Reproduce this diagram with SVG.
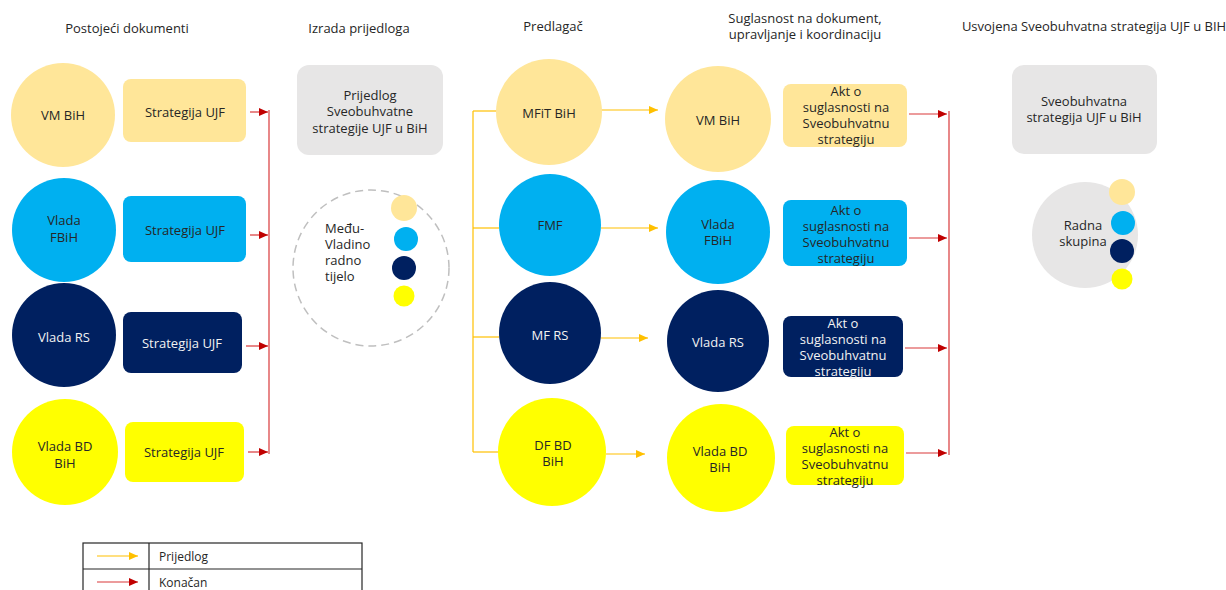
<svg xmlns="http://www.w3.org/2000/svg" width="1226" height="590" viewBox="0 0 1226 590">
<defs>
<marker id="ay" markerUnits="userSpaceOnUse" markerWidth="10" markerHeight="8" refX="9" refY="4" orient="auto"><path d="M0,0 L9,4 L0,8 Z" fill="#FFC000"/></marker>
<marker id="ar" markerUnits="userSpaceOnUse" markerWidth="10" markerHeight="8" refX="9" refY="4" orient="auto"><path d="M0,0 L9,4 L0,8 Z" fill="#C00000"/></marker>
</defs>
<style>
text{font-family:"Open Sans","Noto Sans","Liberation Sans",sans-serif;font-size:13px;fill:#262626;text-anchor:middle}
.lt{fill:#FFE699}
.bl{fill:#00B0F0}
.nv{fill:#002060}
.yl{fill:#FFFF00}
.gr{fill:#E7E6E6}
.wt{fill:#F2F2F2}
.st{text-anchor:start}
.y{stroke:#FFC000;stroke-width:1.2;fill:none}
.r{stroke:#D9383A;stroke-width:1.2;fill:none}
.ya{stroke:#FFC000;stroke-width:1.2;fill:none;marker-end:url(#ay)}
.ra{stroke:#D9383A;stroke-width:1.2;fill:none;marker-end:url(#ar)}
</style>
<rect width="1226" height="590" fill="#FFFFFF"/>

<g id="headers">
<text x="127" y="33">Postojeći dokumenti</text>
<text x="359" y="33">Izrada prijedloga</text>
<text x="553" y="31">Predlagač</text>
<text x="805" y="23">Suglasnost na dokument,</text>
<text x="805" y="39">upravljanje i koordinaciju</text>
<text x="1094" y="31">Usvojena Sveobuhvatna strategija UJF u BIH</text>
</g>

<g id="connectors">
<line class="ra" x1="250" y1="112" x2="268" y2="112"/>
<line class="ra" x1="250" y1="235" x2="268" y2="235"/>
<line class="ra" x1="246" y1="346" x2="268" y2="346"/>
<line class="ra" x1="248" y1="452" x2="268" y2="452"/>
<line class="r" x1="269" y1="110" x2="269" y2="454"/>
<line class="y" x1="473" y1="111" x2="473" y2="452"/>
<line class="y" x1="473" y1="111" x2="497" y2="111"/>
<line class="y" x1="473" y1="228" x2="499" y2="228"/>
<line class="y" x1="473" y1="337" x2="499" y2="337"/>
<line class="y" x1="473" y1="452" x2="499" y2="452"/>
<line class="ya" x1="601" y1="110" x2="658" y2="110"/>
<line class="ya" x1="601" y1="228" x2="658" y2="228"/>
<line class="ya" x1="601" y1="338" x2="648" y2="338"/>
<line class="ya" x1="606" y1="454" x2="645" y2="454"/>
<line class="ra" x1="909" y1="114" x2="947" y2="114"/>
<line class="ra" x1="909" y1="238" x2="947" y2="238"/>
<line class="ra" x1="905" y1="348" x2="947" y2="348"/>
<line class="ra" x1="906" y1="453" x2="947" y2="453"/>
<line class="r" x1="949" y1="111" x2="949" y2="455"/>
</g>

<g id="vm-bih-1"><circle class="lt" cx="63" cy="115" r="52"/><text x="63" y="120">VM BiH</text></g>
<g id="vlada-fbih-1"><circle class="bl" cx="64" cy="230" r="52"/><text x="64" y="225">Vlada</text><text x="64" y="242">FBiH</text></g>
<g id="vlada-rs-1"><circle class="nv" cx="64" cy="335" r="52"/><text class="wt" x="64" y="342">Vlada RS</text></g>
<g id="vlada-bd-1"><circle class="yl" cx="65" cy="452" r="53"/><text x="65" y="451">Vlada BD</text><text x="65" y="468">BiH</text></g>

<g id="strat-1"><rect class="lt" x="123" y="79" width="123" height="63" rx="8"/><text x="185" y="117">Strategija UJF</text></g>
<g id="strat-2"><rect class="bl" x="123" y="196" width="123" height="66" rx="8"/><text x="185" y="235">Strategija UJF</text></g>
<g id="strat-3"><rect class="nv" x="123" y="312" width="119" height="61" rx="8"/><text class="wt" x="182" y="348">Strategija UJF</text></g>
<g id="strat-4"><rect class="yl" x="125" y="422" width="119" height="60" rx="8"/><text x="184" y="457">Strategija UJF</text></g>

<g id="prijedlog"><rect class="gr" x="297" y="65" width="146" height="90" rx="12"/><text x="370" y="100">Prijedlog</text><text x="370" y="116">Sveobuhvatne</text><text x="370" y="133">strategije UJF u BiH</text></g>

<g id="medjuvladino">
<circle cx="371" cy="268" r="78" fill="none" stroke="#BFBFBF" stroke-width="1.5" stroke-dasharray="8,5"/>
<text class="st" x="325" y="233">Među-</text>
<text class="st" x="325" y="249">Vladino</text>
<text class="st" x="325" y="265">radno</text>
<text class="st" x="325" y="281">tijelo</text>
<circle class="lt" cx="404" cy="208" r="13"/>
<circle class="bl" cx="406" cy="239" r="12"/>
<circle class="nv" cx="404" cy="268" r="12"/>
<circle class="yl" cx="404" cy="296" r="10.5"/>
</g>

<g id="mfit-bih"><circle class="lt" cx="549" cy="112" r="53"/><text x="549" y="118">MFiT BiH</text></g>
<g id="fmf"><circle class="bl" cx="550" cy="225" r="51"/><text x="550" y="230">FMF</text></g>
<g id="mf-rs"><circle class="nv" cx="550" cy="333" r="51"/><text class="wt" x="550" y="340">MF RS</text></g>
<g id="df-bd-bih"><circle class="yl" cx="552" cy="452" r="54"/><text x="553" y="450">DF BD</text><text x="553" y="466">BiH</text></g>

<g id="vm-bih-2"><circle class="lt" cx="718" cy="119" r="53"/><text x="718" y="125">VM BiH</text></g>
<g id="vlada-fbih-2"><circle class="bl" cx="718" cy="232" r="52"/><text x="718" y="229">Vlada</text><text x="718" y="245">FBiH</text></g>
<g id="vlada-rs-2"><circle class="nv" cx="718" cy="341" r="51"/><text class="wt" x="718" y="347">Vlada RS</text></g>
<g id="vlada-bd-2"><circle class="yl" cx="721" cy="458" r="54"/><text x="720" y="456">Vlada BD</text><text x="720" y="472">BiH</text></g>

<g id="akt-1"><rect class="lt" x="783" y="84" width="124" height="63" rx="8"/><text x="846" y="96">Akt o</text><text x="846" y="112">suglasnosti na</text><text x="846" y="128">Sveobuhvatnu</text><text x="846" y="144">strategiju</text></g>
<g id="akt-2"><rect class="bl" x="783" y="200" width="124" height="66" rx="8"/><text x="846" y="215">Akt o</text><text x="846" y="231">suglasnosti na</text><text x="846" y="247">Sveobuhvatnu</text><text x="846" y="263">strategiju</text></g>
<g id="akt-3"><rect class="nv" x="783" y="316" width="120" height="61" rx="8"/><text class="wt" x="843" y="328">Akt o</text><text class="wt" x="843" y="344">suglasnosti na</text><text class="wt" x="843" y="360">Sveobuhvatnu</text><text class="wt" x="843" y="376">strategiju</text></g>
<g id="akt-4"><rect class="yl" x="786" y="426" width="118" height="59" rx="8"/><text x="845" y="437">Akt o</text><text x="845" y="453">suglasnosti na</text><text x="845" y="469">Sveobuhvatnu</text><text x="845" y="485">strategiju</text></g>

<g id="usvojena"><rect class="gr" x="1012" y="65" width="145" height="89" rx="12"/><text x="1084" y="106">Sveobuhvatna</text><text x="1084" y="122">strategija UJF u BiH</text></g>

<g id="radna-skupina">
<circle class="gr" cx="1085" cy="235" r="53"/>
<text x="1083" y="230">Radna</text>
<text x="1083" y="246">skupina</text>
<circle class="lt" cx="1122" cy="192" r="13"/>
<circle class="bl" cx="1123" cy="223" r="12"/>
<circle class="nv" cx="1122" cy="251" r="12"/>
<circle class="yl" cx="1122" cy="279" r="10.5"/>
</g>

<g id="legend">
<rect x="83" y="543" width="279" height="55" fill="none" stroke="#262626" stroke-width="1.2"/>
<line x1="149" y1="543" x2="149" y2="598" stroke="#262626" stroke-width="1.2"/>
<line x1="83" y1="569" x2="362" y2="569" stroke="#262626" stroke-width="1.2"/>
<line class="ya" x1="97" y1="556" x2="138" y2="556"/>
<line class="ra" x1="97" y1="582" x2="138" y2="582"/>
<text class="st" x="159" y="561" style="font-size:12px">Prijedlog</text>
<text class="st" x="159" y="587" style="font-size:12px">Konačan</text>
</g>
</svg>
